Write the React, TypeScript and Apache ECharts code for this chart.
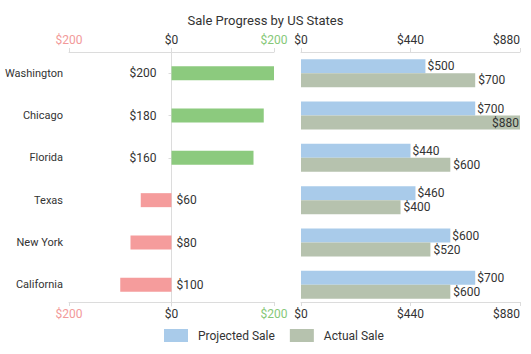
import React, { useEffect, useRef } from "react";
import * as echarts from "echarts";

const states = ["Washington", "Chicago", "Florida", "Texas", "New York", "California"];
const progress = [200, 180, 160, -60, -80, -100];
const projectedSale = [500, 700, 440, 460, 600, 700];
const actualSale = [700, 880, 600, 400, 520, 600];
const saleMax = 880;

const FONT = "Roboto";
const GREEN = "#8cca7e";
const RED = "#f59c9c";
const BLUE = "#a9cbea";
const SAGE = "#b6c2ae";
const AXIS = "#dcdcdc";
const TEXT = "#333";

const money = (v: number) => "$" + Math.abs(v);

export default function App() {
  const ref = useRef<HTMLDivElement>(null);
  useEffect(() => {
    if (!ref.current) return;
    const chart = echarts.init(ref.current, undefined, { renderer: "svg" });
    const leftAxisBase = {
      type: "value" as const,
      gridIndex: 0,
      min: -200,
      max: 200,
      interval: 200,
      splitLine: { show: false },
      axisLine: { show: true, lineStyle: { color: AXIS } },
      axisTick: { show: true, length: 4, lineStyle: { color: AXIS } },
      axisLabel: {
        fontFamily: FONT,
        fontSize: 12,
        margin: 6,
        formatter: (v: number) => money(v),
        color: (v: any) => {
          const n = Number(v);
          return n < 0 ? "#f29a9a" : n > 0 ? "#86c878" : TEXT;
        },
      },
    };
    const rightAxisBase = {
      type: "value" as const,
      gridIndex: 1,
      min: 0,
      max: saleMax,
      interval: 440,
      splitLine: { show: false },
      axisLine: { show: true, lineStyle: { color: AXIS } },
      axisTick: { show: true, length: 4, lineStyle: { color: AXIS } },
      axisLabel: {
        fontFamily: FONT,
        fontSize: 12,
        margin: 6,
        color: TEXT,
        alignMaxLabel: "right",
        formatter: (v: number) => money(v),
      },
    };
    const saleLabel = (v: number) => ({
      value: v,
      label: v >= saleMax ? { position: "insideRight", distance: 1 } : undefined,
    });
    chart.setOption({
      animation: false,
      textStyle: { fontFamily: FONT },
      title: {
        text: "Sale Progress by US States",
        left: "center",
        top: 9,
        textStyle: { fontFamily: FONT, fontSize: 13, fontWeight: "normal", color: TEXT },
      },
      legend: {
        data: ["Projected Sale", "Actual Sale"],
        left: 164,
        top: 329,
        padding: 0,
        icon: "rect",
        itemWidth: 24,
        itemHeight: 13,
        itemGap: 15,
        textStyle: { fontFamily: FONT, fontSize: 12, color: TEXT, padding: [0, 0, 0, 5] },
      },
      grid: [
        { left: 69, right: 257, top: 52, bottom: 48 },
        { left: 301, right: 11, top: 52, bottom: 48 },
      ],
      xAxis: [
        { ...leftAxisBase, position: "top" },
        { ...leftAxisBase, position: "bottom", offset: -4 },
        { ...rightAxisBase, position: "top" },
        { ...rightAxisBase, position: "bottom", offset: -4 },
      ],
      yAxis: [
        {
          type: "category",
          gridIndex: 0,
          data: states,
          inverse: true,
          axisLine: { show: true, lineStyle: { color: AXIS } },
          axisTick: { show: true, alignWithLabel: true, length: 3, lineStyle: { color: AXIS } },
          axisLabel: { fontFamily: FONT, fontSize: 11, color: TEXT, margin: 6 },
        },
        {
          type: "category",
          gridIndex: 1,
          data: states,
          inverse: true,
          axisLine: { show: false },
          axisTick: { show: false },
          axisLabel: { show: false },
        },
      ],
      series: [
        {
          name: "Progress",
          type: "bar",
          xAxisIndex: 0,
          yAxisIndex: 0,
          barWidth: 14,
          data: progress.map((v) => ({
            value: v,
            itemStyle: { color: v >= 0 ? GREEN : RED },
            label: {
              show: true,
              position: v >= 0 ? "left" : "right",
              distance: v >= 0 ? 15 : 5,
            },
          })),
          label: {
            fontFamily: FONT,
            fontSize: 12,
            color: TEXT,
            formatter: (p: any) => money(p.value),
          },
        },
        {
          name: "Projected Sale",
          type: "bar",
          xAxisIndex: 2,
          yAxisIndex: 1,
          barWidth: 14,
          barGap: "0%",
          itemStyle: { color: BLUE },
          data: projectedSale.map(saleLabel),
          label: {
            show: true,
            position: "right",
            distance: 2,
            fontFamily: FONT,
            fontSize: 12,
            color: TEXT,
            formatter: (p: any) => money(p.value),
          },
        },
        {
          name: "Actual Sale",
          type: "bar",
          xAxisIndex: 2,
          yAxisIndex: 1,
          barWidth: 14,
          barGap: "0%",
          itemStyle: { color: SAGE },
          data: actualSale.map(saleLabel),
          label: {
            show: true,
            position: "right",
            distance: 3,
            fontFamily: FONT,
            fontSize: 12,
            color: TEXT,
            formatter: (p: any) => money(p.value),
          },
        },
      ],
    });
    return () => chart.dispose();
  }, []);
  return <div ref={ref} style={{ width: 531, height: 354, position: "absolute", left: 0, top: 0 }} />;
}
